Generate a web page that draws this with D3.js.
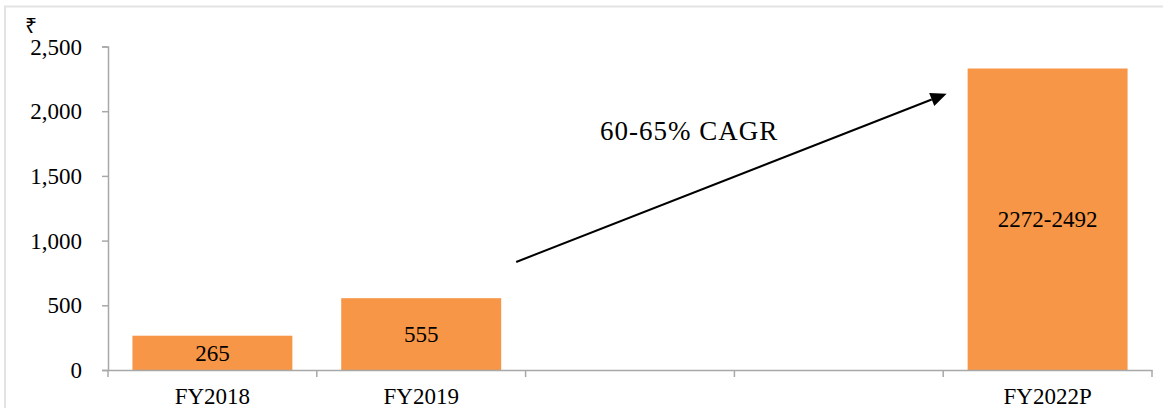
<!DOCTYPE html>
<html>
<head>
<meta charset="utf-8">
<script src="https://cdn.jsdelivr.net/npm/d3@7"></script>
<style>
  html, body { margin: 0; padding: 0; background: #fff; }
  svg { display: block; }
  text { font-family: "Liberation Serif", "Times New Roman", serif; fill: #000; }
</style>
</head>
<body>
<svg id="chart" width="1163" height="408"></svg>
<script>
// ---- data ----
const categories = ["FY2018", "FY2019", "FY2020", "FY2021", "FY2022P"];
const tickLabels = ["FY2018", "FY2019", "", "", "FY2022P"];
const values = [265, 555, null, null, 2330];
const valueLabels = ["265", "555", "", "", "2272-2492"];
const yTicks = [0, 500, 1000, 1500, 2000, 2500];
const currencyLabel = "₹";
const growthLabel = "60-65% CAGR";

// ---- layout ----
const W = 1163, H = 408;
const plot = { left: 108, right: 1152, top: 46.5, bottom: 370 };
const svg = d3.select("#chart");

// frame
svg.append("rect")
  .attr("x", 5).attr("y", 6.5)
  .attr("width", W + 10).attr("height", H + 10)
  .attr("fill", "none").attr("stroke", "#e3e3e3").attr("stroke-width", 2);

const x = d3.scaleBand()
  .domain(categories)
  .range([plot.left, plot.right])
  .paddingInner(0.234)
  .paddingOuter(0.117);

const y = d3.scaleLinear().domain([0, 2500]).range([plot.bottom, plot.top]);

const axisColor = "#a8a8a8";

// y axis
const yAxis = svg.append("g")
  .attr("transform", `translate(${plot.left},0)`)
  .call(d3.axisLeft(y).tickValues(yTicks).tickSize(6).tickPadding(20)
    .tickFormat(d3.format(",")));
yAxis.select(".domain").attr("stroke", axisColor).attr("stroke-width", 1.5);
yAxis.selectAll(".tick line").attr("stroke", axisColor).attr("stroke-width", 1.5);
yAxis.selectAll(".tick text")
  .style("font-family", '"Liberation Serif", "Times New Roman", serif')
  .attr("font-size", 23).attr("fill", "#000").attr("dy", "0.33em");

// bars
const barData = categories.map((c, i) => ({ c, v: values[i], l: valueLabels[i] })).filter(d => d.v != null);
svg.append("g").selectAll("rect")
  .data(barData)
  .join("rect")
  .attr("x", d => x(d.c))
  .attr("width", x.bandwidth())
  .attr("y", d => y(d.v))
  .attr("height", d => y(0) - y(d.v))
  .attr("fill", "#F79646");

// value labels
svg.append("g").selectAll("text")
  .data(barData)
  .join("text")
  .attr("x", d => x(d.c) + x.bandwidth() / 2)
  .attr("y", d => (y(d.v) + y(0)) / 2)
  .attr("dy", "0.35em")
  .attr("text-anchor", "middle")
  .attr("font-size", 23)
  .text(d => d.l);

// x axis (category boundaries like Excel)
const step = x.step();
const xAxisG = svg.append("g").attr("transform", `translate(0,${plot.bottom})`);
const xAxis = d3.axisBottom(x).tickSize(0).tickPadding(0).tickFormat((d, i) => tickLabels[i]);
xAxisG.call(xAxis);
xAxisG.select(".domain").attr("stroke", axisColor).attr("stroke-width", 1.5);
xAxisG.selectAll(".tick text")
  .style("font-family", '"Liberation Serif", "Times New Roman", serif')
  .attr("font-size", 23).attr("fill", "#000")
  .attr("y", 34).attr("dy", 0);
const boundaries = d3.range(categories.length + 1).map(i => plot.left + i * step);
xAxisG.selectAll(".bound")
  .data(boundaries)
  .join("line")
  .attr("class", "bound")
  .attr("x1", d => d).attr("x2", d => d)
  .attr("y1", 0).attr("y2", 7)
  .attr("stroke", axisColor).attr("stroke-width", 1.5);

// currency symbol
svg.append("text")
  .attr("x", 25).attr("y", 33)
  .attr("font-size", 21)
  .text(currencyLabel);

// growth arrow (annotation)
const x0 = x("FY2019") + x.bandwidth() + 15, y0 = y(835);
const x1 = x("FY2022P") - 21, y1 = y(2135);
const ang = Math.atan2(y1 - y0, x1 - x0);
const headLen = 16, headW = 7;
const bx = x1 - headLen * Math.cos(ang), by = y1 - headLen * Math.sin(ang);
svg.append("line")
  .attr("x1", x0).attr("y1", y0).attr("x2", bx).attr("y2", by)
  .attr("stroke", "#000").attr("stroke-width", 2);
svg.append("path")
  .attr("d", d3.line()([
    [x1, y1],
    [bx + headW * Math.sin(ang), by - headW * Math.cos(ang)],
    [bx - headW * Math.sin(ang), by + headW * Math.cos(ang)]
  ]) + "Z")
  .attr("fill", "#000");

svg.append("text")
  .attr("x", 600).attr("y", 140)
  .attr("font-size", 27)
  .attr("letter-spacing", "1px")
  .text(growthLabel);
</script>
</body>
</html>
